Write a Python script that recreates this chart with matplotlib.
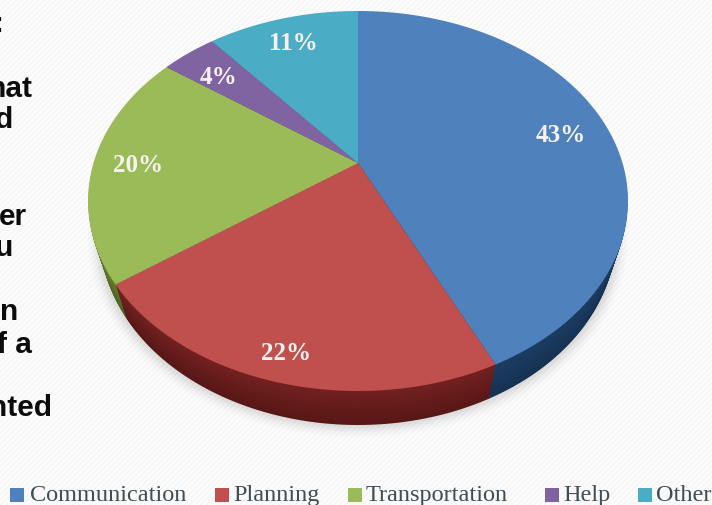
import matplotlib
matplotlib.use("Agg")
import matplotlib.pyplot as plt
import numpy as np
from matplotlib.colors import to_rgb
from matplotlib.patches import Circle, Rectangle
from matplotlib.path import Path
from matplotlib.transforms import Affine2D, Transform

categories = ["Communication", "Planning", "Transportation", "Help", "Other"]
shares = [43, 22, 20, 4, 11]
colors = ["#4f81bd", "#c0504d", "#9bbb59", "#8064a2", "#4bacc6"]
wall_top = ["#1b3c62", "#732120", "#64802f", "#54406f", "#2f7a8f"]
wall_bottom = ["#163252", "#571716", "#4a6022", "#3e2f52", "#225a6b"]
left_text = [":", "hat", "d", "er", "u", "n", "f a", "nted"]


class Tilt(Transform):
    """Perspective view of the unit disc, giving pixel coordinates."""
    input_dims = output_dims = 2

    def transform_non_affine(self, xy):
        xy = np.asarray(xy, float)
        d = 1 + 0.2 * xy[:, 1]
        return np.column_stack((358 + 264.5 * xy[:, 0] / d, 163 - 182.4 * xy[:, 1] / d))

    def transform_path_non_affine(self, path):
        polys = path.transformed(Affine2D().scale(2000)).to_polygons(closed_only=True)
        return Path(self.transform_non_affine(np.asarray(polys[0]) / 2000), closed=True)


def lowered(k, shrink):
    """Shift a layer of the pie down by k pixels, narrowing it about the pie's axis."""
    return Affine2D().translate(-358, 0).scale(shrink, 1).translate(358, k)


W, H = 712, 505
fig = plt.figure(figsize=(W / 100, H / 100), dpi=100, facecolor="#fcfcfc")
ax = fig.add_axes([0, 0, 1, 1])
plt.rcParams["hatch.linewidth"] = 0.8
ax.add_patch(Rectangle((0, 0), W, H, facecolor="#fcfcfc", edgecolor="#f4f4f4", hatch="//////", lw=0, zorder=0))

# soft shadow under the disc
for grow, a in zip(np.linspace(1.04, 1.0, 10), [0.012] * 4 + [0.025] * 6):
    ax.add_patch(Circle((0, 0), grow, fc="#606060", ec="none", alpha=a, zorder=1,
                        transform=Tilt() + lowered(35, 0.96) + ax.transData))

# side wall, built from the same wedges shifted downward
depth = 34
for k in range(depth, 0, -1):
    t = k / depth
    wall = [tuple((1 - t) * np.array(to_rgb(a)) + t * np.array(to_rgb(b)))
            for a, b in zip(wall_top, wall_bottom)]
    w, _ = ax.pie(shares, colors=wall, startangle=90, counterclock=False, radius=1)
    for p in w:
        p.set_transform(Tilt() + lowered(k, 1 - 0.045 * t) + ax.transData)
        p.set_zorder(2)
        p.set_edgecolor("none")

# top face
w, _ = ax.pie(shares, colors=colors, startangle=90, counterclock=False, radius=1)
for p in w:
    p.set_transform(Tilt() + ax.transData)
    p.set_zorder(3)
    p.set_edgecolor("none")

ax.set_aspect("auto")
ax.set_xlim(0, W)
ax.set_ylim(H, 0)
ax.axis("off")

# value labels
label_pos = [(561, 142), (286, 360), (138, 172), (219, 84), (293, 50)]
for v, (x, y) in zip(shares, label_pos):
    ax.text(x, y, f"{v}%", color="#f6f2f0", fontsize=18, fontweight="bold", family="Liberation Serif",
            ha="center", va="baseline", zorder=5)

# legend
sw_x = [10, 215, 348, 545, 638]
tx_x = [30, 233, 366, 563, 656]
for c, s, t, col in zip(categories, sw_x, tx_x, colors):
    ax.add_patch(Rectangle((s, 488), 14, 14, fc=col, ec="none", zorder=5))
    ax.text(t, 501, c, color="#3f4d55", fontsize=17.5, family="Liberation Serif",
            ha="left", va="baseline", zorder=5)

# body text cropped by the left edge of the picture
right = [3, 33, 13, 27, 12, 18, 32, 52]
base = [32, 97, 128, 225, 256, 320, 353, 416]
for s, x, y in zip(left_text, right, base):
    ax.text(x, y, s, color="#0c0c0c", fontsize=21.5, fontweight="bold", family="Liberation Sans",
            ha="right", va="baseline", zorder=5)

fig.savefig("out.png", dpi=100, facecolor=fig.get_facecolor())
